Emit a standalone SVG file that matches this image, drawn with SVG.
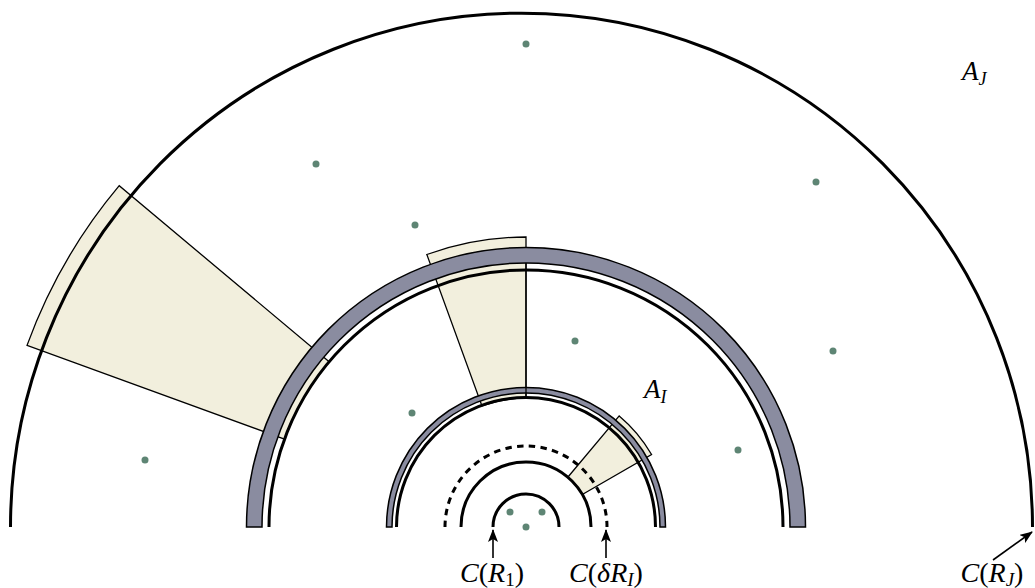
<svg xmlns="http://www.w3.org/2000/svg" width="1035" height="588" viewBox="0 0 1035 588">
<style>
.sector{fill:#f2efdd;stroke:#000;stroke-width:1.3;stroke-linejoin:miter}
.band{fill:#8a8ca0;stroke:#000;stroke-width:1.5}
.circ{fill:none;stroke:#000;stroke-width:3}
.dash{fill:none;stroke:#000;stroke-width:3;stroke-dasharray:6.5 5.3}
.dot{fill:#5e8574}
.lbl{font-family:"Liberation Serif","DejaVu Serif",serif;font-size:28px;fill:#000}
.alab{font-family:"Liberation Serif","DejaVu Serif",serif;font-size:27px;fill:#000;font-style:italic}
.arr{fill:none;stroke:#000;stroke-width:1.6}
</style>
<defs>
<marker id="ah" markerUnits="userSpaceOnUse" markerWidth="13" markerHeight="10" viewBox="0 0 13 10" refX="12" refY="5" orient="auto">
<path d="M0,0 L13,5 L0,10 L3,5 Z" fill="#000"/>
</marker>
</defs>
<g id="sectors">
<path id="sector-outer" class="sector" d="M329.13 361.80 L119.23 185.68 A531 531 0 0 0 27.02 345.39 L284.5 439.10 A257 257 0 0 1 329.13 361.80 Z"/>
<path id="sector-mid" class="sector" d="M526 398 L526 237 A290 290 0 0 0 426.81 254.49 L481.88 405.78 A129 129 0 0 1 526 398 Z"/>
<path id="sector-inner" class="sector" d="M582.29 494.5 L651.57 454.5 A145 145 0 0 0 619.20 415.92 L567.78 477.21 A65 65 0 0 1 582.29 494.5 Z"/>
</g>
<g id="bands">
<path id="band-outer" class="band" d="M246.5 527 A279.5 279.5 0 0 1 805.5 527 L790 527 A264 264 0 0 0 262 527 Z"/>
<path id="band-inner" class="band" d="M386.5 527 A139.5 139.5 0 0 1 665.5 527 L660 527 A134 134 0 0 0 392 527 Z"/>
</g>
<g id="circles">
<path id="circle-RJ" class="circ" d="M10.5 527 A511 514 0 0 1 1032.5 527"/>
<path id="circle-outer-inner" class="circ" d="M269 527 A257 257 0 0 1 783 527"/>
<path id="circle-RI" class="circ" d="M396.5 527 A129.5 129.5 0 0 1 655.5 527"/>
<path id="circle-deltaRI" class="dash" d="M445 527 A81 81 0 0 1 607 527"/>
<path id="circle-mid" class="circ" d="M461 527 A65 65 0 0 1 591 527"/>
<path id="circle-R1" class="circ" d="M493 527 A33 33 0 0 1 559 527"/>
<line x1="526" y1="398" x2="526" y2="263" stroke="#000" stroke-width="1.3"/>
</g>
<g id="points">
<circle class="dot" cx="526" cy="44" r="3.5"/>
<circle class="dot" cx="316" cy="164" r="3.5"/>
<circle class="dot" cx="816" cy="182" r="3.5"/>
<circle class="dot" cx="415" cy="225" r="3.5"/>
<circle class="dot" cx="575" cy="341" r="3.5"/>
<circle class="dot" cx="833" cy="351" r="3.5"/>
<circle class="dot" cx="412" cy="413" r="3.5"/>
<circle class="dot" cx="738" cy="450" r="3.5"/>
<circle class="dot" cx="145" cy="460" r="3.5"/>
<circle class="dot" cx="510" cy="512" r="3.5"/>
<circle class="dot" cx="542" cy="512" r="3.5"/>
<circle class="dot" cx="526" cy="527" r="3.5"/>
</g>
<g id="connectors">
<line class="arr" x1="493" y1="558" x2="493" y2="530" marker-end="url(#ah)"/>
<line class="arr" x1="606" y1="558" x2="606" y2="530" marker-end="url(#ah)"/>
<line class="arr" x1="993" y1="560" x2="1032" y2="532" marker-end="url(#ah)"/>
</g>
<g id="labels">
<text id="label-AJ" class="alab" x="962" y="80">A<tspan font-size="18" dy="5">J</tspan></text>
<text id="label-AI" class="alab" x="644" y="398">A<tspan font-size="18" dy="5">I</tspan></text>
<text id="label-R1" class="lbl" x="492" y="582" text-anchor="middle"><tspan font-style="italic">C</tspan>(<tspan font-style="italic">R</tspan><tspan font-size="19" dy="4">1</tspan><tspan dy="-4">)</tspan></text>
<text id="label-dRI" class="lbl" x="606" y="582" text-anchor="middle"><tspan font-style="italic">C</tspan>(<tspan font-style="italic">δR</tspan><tspan font-size="19" dy="4" font-style="italic">I</tspan><tspan dy="-4">)</tspan></text>
<text id="label-RJ" class="lbl" x="992" y="582" text-anchor="middle"><tspan font-style="italic">C</tspan>(<tspan font-style="italic">R</tspan><tspan font-size="19" dy="4" font-style="italic">J</tspan><tspan dy="-4">)</tspan></text>
</g>
</svg>
